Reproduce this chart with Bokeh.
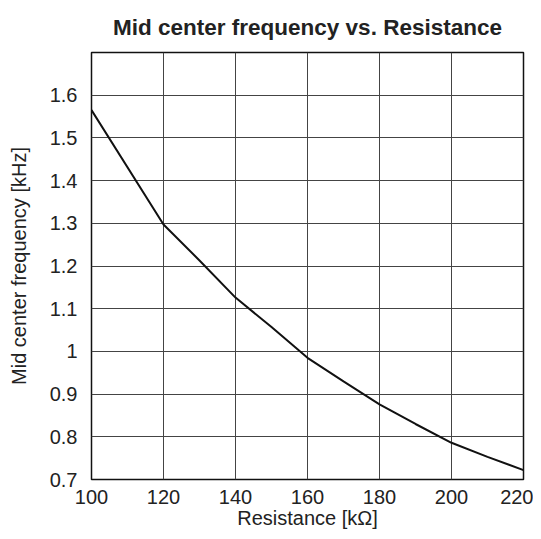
from bokeh.plotting import figure
from bokeh.embed import file_html
from bokeh.resources import INLINE
from bokeh.models import FixedTicker, CustomJSTickFormatter, Range1d

resistance = [100, 120, 130, 140, 150, 160, 170, 180, 190, 200, 210, 220]
frequency = [1.565, 1.297, 1.213, 1.126, 1.057, 0.985, 0.930, 0.876, 0.830, 0.786, 0.753, 0.722]
x_ticks = [100, 120, 140, 160, 180, 200, 220]
y_ticks = [0.7, 0.8, 0.9, 1.0, 1.1, 1.2, 1.3, 1.4, 1.5, 1.6]
x_title = "Resistance [kΩ]"
y_title = "Mid center frequency [kHz]"
chart_title = "Mid center frequency vs. Resistance"

FONT = "Liberation Sans"

p = figure(width=533, height=531, output_backend="svg", toolbar_location=None,
           x_range=Range1d(x_ticks[0], x_ticks[-1]), y_range=Range1d(0.7, 1.7),
           min_border_left=91, min_border_right=10, min_border_top=49, min_border_bottom=51,
           title=chart_title)

p.title.align = "center"
p.title.text_font = FONT
p.title.text_font_size = "22.5px"
p.title.text_font_style = "bold"
p.title.text_color = "#222222"
p.title.standoff = 25

p.line(resistance, frequency, line_color="#111111", line_width=2)

p.outline_line_color = "#111111"
p.outline_line_width = 1.5

for ax in (p.xaxis[0], p.yaxis[0]):
    ax.axis_line_color = None
    ax.major_tick_line_color = None
    ax.minor_tick_line_color = None
    ax.major_label_text_font = FONT
    ax.major_label_text_font_size = "20px"
    ax.major_label_text_color = "#222222"
    ax.axis_label_text_font = FONT
    ax.axis_label_text_font_size = "20px"
    ax.axis_label_text_font_style = "normal"
    ax.axis_label_text_color = "#222222"

p.xaxis.ticker = FixedTicker(ticks=x_ticks)
p.yaxis.ticker = FixedTicker(ticks=y_ticks)
p.yaxis.formatter = CustomJSTickFormatter(code="return String(Number(tick.toFixed(1)));")
p.xaxis.axis_label = x_title
p.yaxis.axis_label = y_title
p.xaxis.major_label_standoff = 4
p.yaxis.major_label_standoff = 8
p.xaxis.axis_label_standoff = 0
p.yaxis.axis_label_standoff = 17

p.xgrid.ticker = FixedTicker(ticks=x_ticks)
p.ygrid.ticker = FixedTicker(ticks=y_ticks)
for g in (p.xgrid[0], p.ygrid[0]):
    g.grid_line_color = "#444444"
    g.grid_line_width = 1
    g.grid_line_alpha = 1.0

open("out.html", "w").write(file_html(p, INLINE))
